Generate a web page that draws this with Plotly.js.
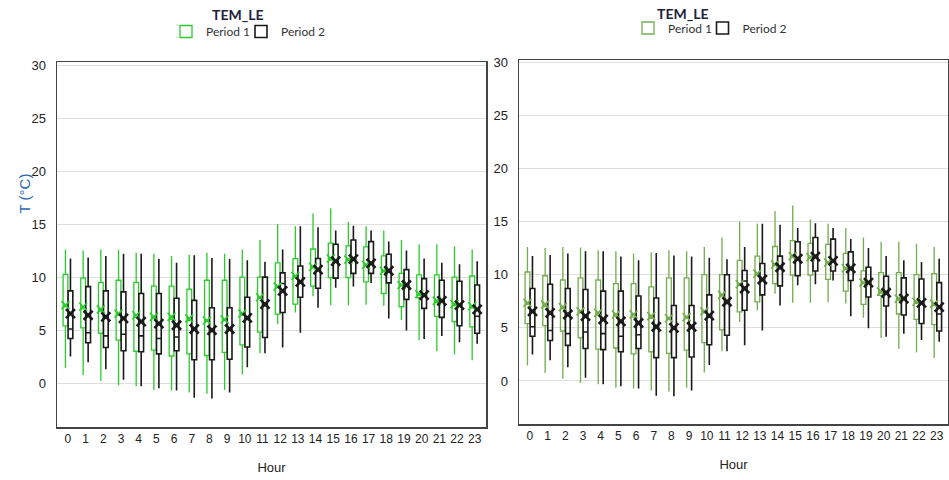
<!DOCTYPE html>
<html>
<head>
<meta charset="utf-8">
<script src="https://cdn.plot.ly/plotly-3.0.1.min.js"></script>
<style>html,body{margin:0;padding:0;background:#fff;}#chart{width:949px;height:480px;}</style>
</head>
<body>
<div id="chart"></div>
<script>
const hours = [0,1,2,3,4,5,6,7,8,9,10,11,12,13,14,15,16,17,18,19,20,21,22,23];
const hourLabels = ['0','1','2','3','4','5','6','7','8','9','10','11','12','13','14','15','16','17','18','19','20','21','22','23'];

// Period 1 (green)
const p1Upper  = [12.6,12.5,12.6,12.55,12.3,12.2,12.0,12.1,12.3,12.2,12.6,13.5,15.0,14.8,16.0,16.5,15.2,14.8,14.4,13.5,13.1,13.1,12.9,12.6];
const p1Q3     = [10.25,9.9,9.5,9.7,9.5,9.15,9.15,8.85,9.7,9.7,10.0,10.0,11.35,11.75,12.65,13.2,12.95,12.85,12.0,10.35,10.2,10.2,10.0,10.1];
const p1Median = [7.2,7.0,6.8,6.4,6.2,6.1,6.0,5.9,5.8,5.9,6.4,8.0,9.0,10.0,10.9,11.6,11.6,11.1,10.5,9.2,8.3,7.6,7.3,7.1];
const p1Q1     = [5.4,5.2,4.7,4.05,3.0,3.1,2.55,2.75,2.6,2.9,3.6,4.8,6.5,7.45,9.15,9.95,9.95,9.55,8.45,7.2,8.05,6.3,5.8,5.3];
const p1Lower  = [1.45,0.75,0.2,-0.2,-0.3,-0.65,-0.7,-0.9,-1.0,-0.65,0.8,2.8,5.55,6.65,8.2,7.35,7.35,7.4,7.3,5.95,4.05,3.0,2.7,2.15];
const p1Mean   = [7.35,7.2,6.95,6.55,6.4,6.25,6.25,6.1,5.9,6.0,6.55,8.1,9.1,10.1,10.95,11.75,11.65,11.15,10.6,9.25,8.4,7.75,7.45,7.25];

// Period 2 (black)
const p2Upper  = [11.75,11.85,12.0,12.2,12.2,11.7,11.35,12.05,11.8,11.7,11.6,11.45,12.6,14.8,14.7,14.4,14.85,14.4,13.35,12.5,11.75,11.35,11.2,11.5];
const p2Q3     = [8.7,9.1,8.7,8.6,8.45,8.45,8.0,7.8,7.1,7.1,8.1,10.0,10.4,11.05,11.75,13.1,13.5,13.35,12.15,10.7,9.85,9.7,9.6,9.25];
const p2Median = [5.1,4.75,4.45,4.6,4.45,4.2,4.35,5.1,5.0,5.1,6.0,7.3,9.4,9.6,10.7,11.5,11.8,11.3,10.5,9.2,8.4,7.8,7.4,6.3];
const p2Q1     = [4.2,3.8,3.35,3.05,2.95,2.75,3.05,2.2,2.2,2.25,3.4,4.3,6.65,8.1,8.95,9.9,10.35,10.35,9.45,7.9,7.05,6.2,5.4,4.7];
const p2Lower  = [2.5,1.95,1.3,0.3,-0.3,-0.5,-0.7,-1.4,-1.45,-0.9,1.5,2.8,3.35,4.75,7.1,9.0,9.1,9.45,6.1,4.95,4.15,4.45,3.85,3.7];
const p2Mean   = [6.55,6.4,6.25,6.1,5.8,5.6,5.45,5.1,5.0,5.1,6.15,7.45,8.7,9.55,10.7,11.5,11.7,11.3,10.6,9.25,8.3,7.75,7.35,6.95];

const seriesNames = ['Period 1','Period 2'];
const chartTitle = 'TEM_LE';
const yTitle = 'T (°C)';
const xTitle = 'Hour';

const GREEN_L = '#2ccb2c';
const GREEN_R = '#72ad4c';
const BLACK = '#1a1a1a';

function boxTrace(xa, ya, name, color, lw, q1, med, q3, lo, hi, mn, legend) {
  return {
    type: 'box', x: hours, q1: q1, median: med, q3: q3, lowerfence: lo, upperfence: hi, mean: mn,
    name: name, xaxis: xa, yaxis: ya, offsetgroup: name, legend: legend,
    line: {color: color, width: lw}, fillcolor: 'rgba(255,255,255,0)',
    whiskerwidth: 0, boxpoints: false, hoverinfo: 'skip'
  };
}
function meanTrace(xa, ya, name, color, size, lw, mn) {
  return {
    type: 'scatter', mode: 'markers', x: hours, y: mn, xaxis: xa, yaxis: ya,
    offsetgroup: name, orientation: 'v', showlegend: false, hoverinfo: 'skip',
    marker: {symbol: 'x-thin', size: size, color: color, line: {color: color, width: lw}}
  };
}

const data = [
  boxTrace('x','y',seriesNames[0],GREEN_L,1.3,p1Q1,p1Median,p1Q3,p1Lower,p1Upper,p1Mean,'legend'),
  boxTrace('x','y',seriesNames[1],BLACK,1.6,p2Q1,p2Median,p2Q3,p2Lower,p2Upper,p2Mean,'legend2'),
  meanTrace('x','y',seriesNames[0],GREEN_L,8,1.6,p1Mean),
  meanTrace('x','y',seriesNames[1],BLACK,9,2.6,p2Mean),
  boxTrace('x2','y2',seriesNames[0],GREEN_R,1.3,p1Q1,p1Median,p1Q3,p1Lower,p1Upper,p1Mean,'legend3'),
  boxTrace('x2','y2',seriesNames[1],BLACK,1.6,p2Q1,p2Median,p2Q3,p2Lower,p2Upper,p2Mean,'legend4'),
  meanTrace('x2','y2',seriesNames[0],GREEN_R,8,1.6,p1Mean),
  meanTrace('x2','y2',seriesNames[1],BLACK,9,2.6,p2Mean)
];

const W = 949, H = 480;
function xAxis(d0, d1, anchor) {
  return {
    domain: [d0 / W, d1 / W], anchor: anchor, range: [-0.62, 23.64],
    tickmode: 'array', tickvals: hours, ticktext: hourLabels,
    showgrid: false, zeroline: false, showline: true, mirror: true,
    linecolor: '#444', linewidth: 1.5, ticks: '',
    tickfont: {family: 'Liberation Sans, Arial, sans-serif', size: 12, color: '#222'},
    title: {text: xTitle, font: {family: 'Liberation Sans, Arial, sans-serif', size: 13, color: '#222'}, standoff: 18}
  };
}
function yAxis(top, bottom, anchor, r0, r1) {
  return {
    domain: [1 - bottom / H, 1 - top / H], anchor: anchor, range: [r0, r1],
    tick0: 0, dtick: 5, gridcolor: '#dedede', gridwidth: 1,
    zeroline: false, showline: true, mirror: true, linecolor: '#444', linewidth: 1.5,
    ticks: '', ticklabelstandoff: 7,
    tickfont: {family: 'Liberation Sans, Arial, sans-serif', size: 13, color: '#222'}
  };
}

function legendAt(symbolCenterX, centerY) {
  return {
    orientation: 'h', xanchor: 'left', yanchor: 'middle', bgcolor: 'rgba(0,0,0,0)',
    font: {family: 'Lato, Open Sans, sans-serif', size: 12, color: '#333'},
    itemwidth: 30, x: (symbolCenterX - 20) / W, y: 1 - centerY / H
  };
}

const layout = {
  width: W, height: H, margin: {l: 0, r: 0, t: 0, b: 0},
  paper_bgcolor: '#fff', plot_bgcolor: '#fff',
  boxmode: 'group', boxgap: 0.435, boxgroupgap: 0.05,
  scattermode: 'group', scattergap: 0.435,
  showlegend: true,
  xaxis: xAxis(57, 486, 'y'),
  yaxis: yAxis(62, 427, 'x', -4.15, 30.3),
  xaxis2: xAxis(519, 948, 'y2'),
  yaxis2: yAxis(60, 424, 'x2', -4.05, 30.2),
  legend: legendAt(186, 31.5),
  legend2: legendAt(261, 31.5),
  legend3: legendAt(648, 28),
  legend4: legendAt(722.5, 28),
  annotations: [
    {text: '<b>' + chartTitle + '</b>', xref: 'paper', yref: 'paper', x: 238.5 / W, y: 1 - 14 / H,
     xanchor: 'center', yanchor: 'middle', showarrow: false,
     font: {family: 'Lato, Open Sans, sans-serif', size: 14, color: '#1c2340'}},
    {text: '<b>' + chartTitle + '</b>', xref: 'paper', yref: 'paper', x: 683 / W, y: 1 - 13.5 / H,
     xanchor: 'center', yanchor: 'middle', showarrow: false,
     font: {family: 'Lato, Open Sans, sans-serif', size: 14, color: '#1c2340'}},
    {text: yTitle, xref: 'paper', yref: 'paper', x: 24 / W, y: 1 - 193.5 / H,
     xanchor: 'center', yanchor: 'middle', showarrow: false, textangle: -90,
     font: {family: 'Liberation Sans, Arial, sans-serif', size: 15, color: '#2a6ab5'}}
  ]
};

Plotly.newPlot('chart', data, layout, {displayModeBar: false, staticPlot: true});
</script>
</body>
</html>
